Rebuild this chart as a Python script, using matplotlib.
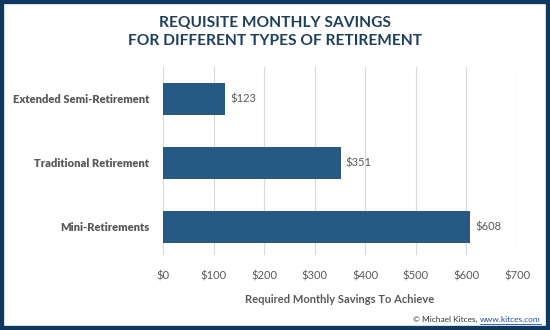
import matplotlib.pyplot as plt
from matplotlib.patches import Rectangle

categories = ["Mini-Retirements", "Traditional Retirement", "Extended Semi-Retirement"]
savings = [608, 351, 123]
xticks = [0, 100, 200, 300, 400, 500, 600, 700]

navy = "#0f3a5f"
bar_col = "#265a85"
grey = "#595959"

plt.rcParams['font.family'] = ['Lato', 'DejaVu Sans']

fig = plt.figure(figsize=(5.5, 3.3), dpi=100)
ax = fig.add_axes([163/550, 1 - 255/330, (517-163)/550, (255-67)/330])

ypos = range(len(categories))
ax.barh(ypos, savings, height=0.5, color=bar_col, zorder=3)
for y, v in zip(ypos, savings):
    ax.text(v + 10, y, f"${v}", va="center", ha="left", fontsize=8, color=grey)

ax.set_xlim(0, 700)
ax.set_ylim(-0.44, 2.5)
ax.set_xticks(xticks)
ax.set_xticklabels([f"${t}" for t in xticks], fontsize=8, color=grey)
ax.set_yticks(list(ypos))
ax.set_yticklabels(categories, fontsize=8, color=grey, fontweight="heavy")
ax.tick_params(length=0, pad=11)
ax.tick_params(axis="y", pad=10)
ax.grid(axis="x", color="#d9d9d9", linewidth=0.8, zorder=0)
for s in ax.spines.values():
    s.set_visible(False)
ax.set_xlabel("Required Monthly Savings To Achieve", fontsize=8, color=grey,
              fontweight="bold", labelpad=9)

fig.text(0.5, 1 - 32/330, "REQUISITE MONTHLY SAVINGS\nFOR DIFFERENT TYPES OF RETIREMENT",
         ha="center", va="center", fontsize=11.2, fontweight="bold", color="#1f3f5f",
         linespacing=1.35)
fig.text(480/550, 1 - 319/330, "© Michael Kitces, ", ha="right", va="center",
         fontsize=6, color="#333333")
fig.text(480/550, 1 - 319/330, "www.kitces.com", ha="left", va="center",
         fontsize=6, color="#1f4e9f")
fig.add_artist(plt.Line2D([480/550, 541/550], [1 - 323.5/330, 1 - 323.5/330],
                          color="#1f4e9f", linewidth=0.6))

# dark frame round the picture
fig.add_artist(Rectangle((0, 0), 1, 1, transform=fig.transFigure, fill=False,
                         edgecolor=navy, linewidth=6))
fig.add_artist(Rectangle((0, 0), 1, 4/330, transform=fig.transFigure,
                         color=navy, linewidth=0))

fig.savefig("out.png", dpi=100)
